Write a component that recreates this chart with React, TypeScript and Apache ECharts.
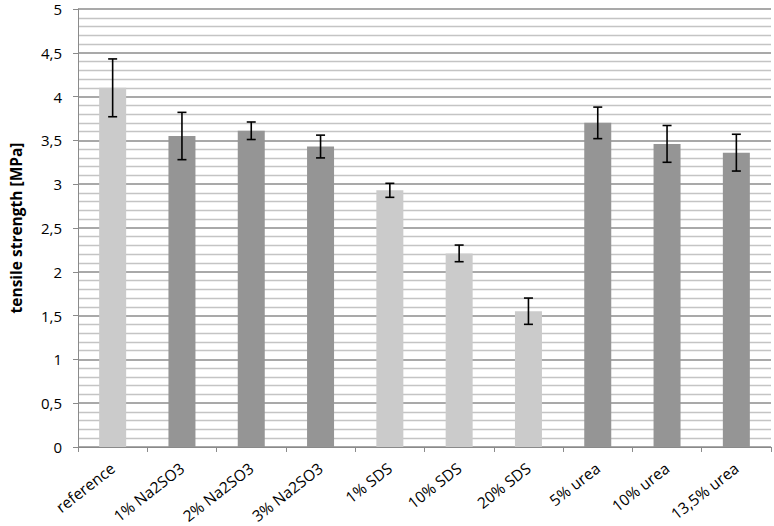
import React, { useEffect, useRef } from "react";
import * as echarts from "echarts";

const categories = ["reference", "1% Na2SO3", "2% Na2SO3", "3% Na2SO3", "1% SDS", "10% SDS", "20% SDS", "5% urea", "10% urea", "13,5% urea"];
const values = [4.1, 3.55, 3.61, 3.43, 2.93, 2.21, 1.55, 3.7, 3.46, 3.36];
const errors = [0.33, 0.27, 0.1, 0.13, 0.08, 0.095, 0.15, 0.18, 0.21, 0.21];
const groups = ["light", "dark", "dark", "dark", "light", "light", "light", "dark", "dark", "dark"];

const colors: Record<string, string> = { light: "#cbcbcb", dark: "#959595" };
const FONT = "Open Sans";

export default function App() {
  const ref = useRef<HTMLDivElement>(null);
  useEffect(() => {
    if (!ref.current) return;
    const chart = echarts.init(ref.current, null, { renderer: "svg" });
    chart.setOption({
      animation: false,
      grid: { left: 66, right: 3, top: 9, bottom: 78, containLabel: false },
      xAxis: {
        type: "category",
        data: categories,
        axisLine: { show: true, lineStyle: { color: "#8a8a8a", width: 1 } },
        axisTick: { show: true, length: 5, lineStyle: { color: "#8a8a8a" } },
        axisLabel: { rotate: 38, color: "#000", fontFamily: FONT, fontSize: 15.5, margin: 19, interval: 0 },
        splitLine: { show: false },
      },
      yAxis: {
        type: "value",
        min: 0,
        max: 5,
        interval: 0.5,
        name: "tensile strength [MPa]",
        nameLocation: "middle",
        nameGap: 54,
        nameRotate: 90,
        nameTextStyle: { fontFamily: FONT, fontSize: 15.5, fontWeight: "bold", color: "#000" },
        axisLine: { show: true, lineStyle: { color: "#8a8a8a", width: 1 } },
        axisTick: { show: true, length: 5, lineStyle: { color: "#8a8a8a" } },
        axisLabel: {
          color: "#000",
          fontFamily: FONT,
          fontSize: 15,
          margin: 16,
          formatter: (v: number) => String(v).replace(".", ","),
        },
        splitLine: { show: true, lineStyle: { color: "#8c8c8c", width: 1.5 } },
        minorTick: { show: false, splitNumber: 5 },
        minorSplitLine: { show: true, lineStyle: { color: "#c4c4c4", width: 1.3 } },
      },
      series: [
        {
          type: "bar",
          barWidth: 27,
          data: values.map((v, i) => ({ value: v, itemStyle: { color: colors[groups[i]] } })),
          z: 2,
        },
        {
          type: "custom",
          z: 5,
          data: values.map((v, i) => [i, v - errors[i], v + errors[i]]),
          renderItem: (params: any, api: any) => {
            const x = api.value(0);
            const lo = api.coord([x, api.value(1)]);
            const hi = api.coord([x, api.value(2)]);
            const half = 4.5;
            const style = { stroke: "#000", lineWidth: 1.6 };
            return {
              type: "group",
              children: [
                { type: "line", shape: { x1: lo[0], y1: lo[1], x2: hi[0], y2: hi[1] }, style },
                { type: "line", shape: { x1: lo[0] - half, y1: lo[1], x2: lo[0] + half, y2: lo[1] }, style },
                { type: "line", shape: { x1: hi[0] - half, y1: hi[1], x2: hi[0] + half, y2: hi[1] }, style },
              ],
            };
          },
        },
      ],
    });
    return () => chart.dispose();
  }, []);
  return <div ref={ref} style={{ width: 774, height: 526, position: "absolute", left: 0, top: 0, background: "#fff" }} />;
}
